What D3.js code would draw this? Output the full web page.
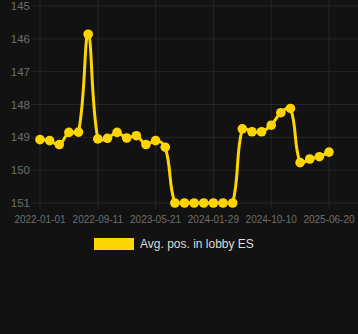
<!DOCTYPE html>
<html>
<head>
<meta charset="utf-8">
<script src="https://cdn.jsdelivr.net/npm/d3@7"></script>
<style>
  html, body { margin: 0; padding: 0; background: #121212; }
  svg { display: block; font-family: "Liberation Sans", Arial, sans-serif; }
</style>
</head>
<body>
<svg id="chart" width="358" height="334"></svg>
<script>
// ── Data ─────────────────────────────────────────────────────────
const dates = [
  "2022-01-01", "2022-02-12", "2022-03-26", "2022-05-07", "2022-06-18", "2022-07-30",
  "2022-09-11", "2022-10-23", "2022-12-04", "2023-01-15", "2023-02-26", "2023-04-09",
  "2023-05-21", "2023-07-02", "2023-08-13", "2023-09-24", "2023-11-05", "2023-12-17",
  "2024-01-29", "2024-03-11", "2024-04-22", "2024-06-03", "2024-07-15", "2024-08-27",
  "2024-10-10", "2024-11-21", "2025-01-02", "2025-02-13", "2025-03-27", "2025-05-08",
  "2025-06-20"
];
const avgPos = [
  149.07, 149.1, 149.22, 148.85, 148.84, 145.86,
  149.05, 149.03, 148.85, 149.02, 148.95, 149.22,
  149.1, 149.3, 151, 151, 151, 151,
  151, 151, 151, 148.74, 148.83, 148.83,
  148.63, 148.25, 148.12, 149.77, 149.66, 149.59,
  149.45
];
const yTicks = [145, 146, 147, 148, 149, 150, 151];
const xTickLabels = ["2022-01-01", "2022-09-11", "2023-05-21", "2024-01-29", "2024-10-10", "2025-06-20"];
const seriesName = "Avg. pos. in lobby ES";

// ── Config ───────────────────────────────────────────────────────
const W = 358;
const plot = { left: 40, right: 329, top: 6, bottom: 203 };
const GRID = "#252525";
const TICK_TXT = "#6e6e6e";
const GOLD = "#FFD500";
const TENSION = 0.4;

const svg = d3.select("#chart");

const x = d3.scalePoint().domain(dates).range([plot.left, plot.right]);
const y = d3.scaleLinear().domain([145, 151]).range([plot.top, plot.bottom]);

// ── Grid ─────────────────────────────────────────────────────────
const grid = svg.append("g");

grid.selectAll(".hgrid").data(yTicks).enter()
  .append("line")
  .attr("x1", plot.left - 9).attr("x2", W)
  .attr("y1", d => y(d)).attr("y2", d => y(d))
  .attr("stroke", GRID).attr("stroke-width", 1);

grid.selectAll(".vgrid").data(xTickLabels).enter()
  .append("line")
  .attr("x1", d => x(d)).attr("x2", d => x(d))
  .attr("y1", 0).attr("y2", plot.bottom + 6)
  .attr("stroke", GRID).attr("stroke-width", 1);

// ── Axis labels ──────────────────────────────────────────────────
svg.append("g").selectAll("text").data(yTicks).enter()
  .append("text")
  .attr("x", plot.left - 10)
  .attr("y", d => y(d))
  .attr("dy", "0.36em")
  .attr("text-anchor", "end")
  .attr("fill", TICK_TXT)
  .attr("font-size", 11.5)
  .text(d => d);

svg.append("g").selectAll("text").data(xTickLabels).enter()
  .append("text")
  .attr("x", d => x(d))
  .attr("y", plot.bottom + 16)
  .attr("dy", "0.35em")
  .attr("text-anchor", "middle")
  .attr("fill", TICK_TXT)
  .attr("font-size", 10)
  .text(d => d);

// ── Spline (distance-weighted, tension 0.4, capped to plot area) ─
function splinePath(p) {
  const clampY = v => Math.max(plot.top, Math.min(plot.bottom, v));
  const clampX = v => Math.max(plot.left, Math.min(plot.right, v));
  const cps = p.map((cur, i) => {
    const prev = p[i - 1] || cur, next = p[i + 1] || cur;
    const d01 = Math.hypot(cur[0] - prev[0], cur[1] - prev[1]);
    const d12 = Math.hypot(next[0] - cur[0], next[1] - cur[1]);
    let s01 = d01 / (d01 + d12), s12 = d12 / (d01 + d12);
    if (isNaN(s01)) s01 = 0;
    if (isNaN(s12)) s12 = 0;
    const fa = TENSION * s01, fb = TENSION * s12;
    return {
      c1: [clampX(cur[0] - fa * (next[0] - prev[0])), clampY(cur[1] - fa * (next[1] - prev[1]))],
      c2: [clampX(cur[0] + fb * (next[0] - prev[0])), clampY(cur[1] + fb * (next[1] - prev[1]))]
    };
  });
  const path = d3.path();
  path.moveTo(p[0][0], p[0][1]);
  for (let i = 1; i < p.length; i++) {
    const a = cps[i - 1].c2, b = cps[i].c1;
    path.bezierCurveTo(a[0], a[1], b[0], b[1], p[i][0], p[i][1]);
  }
  return path.toString();
}

// ── Line + points ────────────────────────────────────────────────
const pts = dates.map((d, i) => ({ date: d, v: avgPos[i] }));
const xy = pts.map(d => [x(d.date), y(d.v)]);

svg.append("path")
  .attr("fill", "none")
  .attr("stroke", GOLD)
  .attr("stroke-width", 3)
  .attr("d", splinePath(xy));

svg.append("g").selectAll("circle").data(pts).enter()
  .append("circle")
  .attr("cx", d => x(d.date))
  .attr("cy", d => y(d.v))
  .attr("r", 4.8)
  .attr("fill", GOLD);

// ── Legend ───────────────────────────────────────────────────────
const legend = svg.append("g").attr("transform", "translate(94,238)");
legend.append("rect")
  .attr("width", 40).attr("height", 12)
  .attr("fill", GOLD);
legend.append("text")
  .attr("x", 46).attr("y", 6)
  .attr("dy", "0.36em")
  .attr("fill", "#dcdcdc")
  .attr("font-size", 12)
  .text(seriesName);
</script>
</body>
</html>
